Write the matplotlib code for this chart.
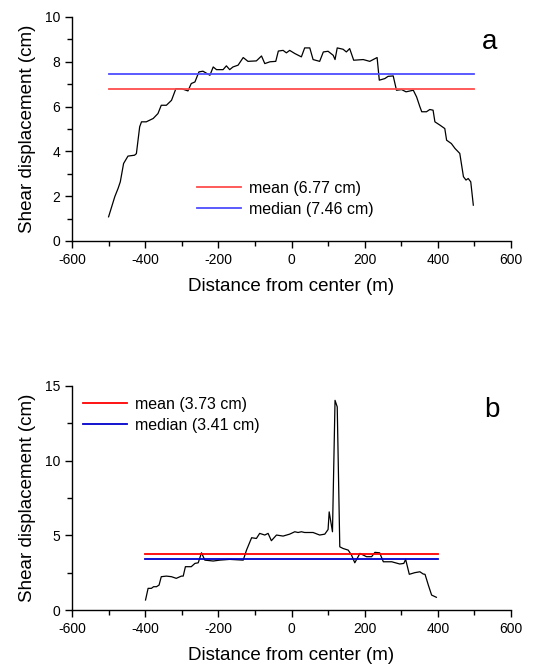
import matplotlib
matplotlib.use("Agg")
import matplotlib.pyplot as plt
from matplotlib.ticker import MultipleLocator

plt.rcParams['font.family'] = ['Liberation Sans', 'DejaVu Sans']
plt.rcParams['axes.unicode_minus'] = False

# Panel a data
xa = [-500, -483, -474, -468, -459, -447, -429, -424, -415, -410, -397, -378, -365, -356,
      -342, -328, -316, -301, -283, -274, -264, -253, -242, -223, -214, -205, -187, -178,
      -169, -160, -146, -132, -119, -96, -82, -73, -59, -43, -36, -23, -14, -5, 9, 27, 36,
      50, 59, 77, 87, 100, 114, 119, 125, 141, 150, 159, 170, 196, 214, 228, 234, 240, 255,
      264, 278, 287, 301, 313, 333, 342, 351, 356, 369, 378, 387, 392, 406, 419, 424, 437,
      447, 460, 470, 477, 483, 490, 497]
ya = [1.08, 1.98, 2.35, 2.64, 3.46, 3.79, 3.83, 3.90, 5.10, 5.32, 5.32, 5.47, 5.69, 6.06,
      6.06, 6.28, 6.80, 6.80, 6.70, 7.03, 7.10, 7.55, 7.58, 7.40, 7.77, 7.65, 7.65, 7.82,
      7.65, 7.77, 7.85, 8.19, 8.02, 8.04, 8.26, 7.92, 8.00, 8.02, 8.48, 8.51, 8.40, 8.51,
      8.37, 8.22, 8.62, 8.62, 8.10, 8.02, 8.44, 8.47, 8.29, 8.10, 8.62, 8.56, 8.44, 8.59,
      8.07, 8.10, 8.02, 8.14, 8.19, 7.18, 7.25, 7.35, 7.37, 6.73, 6.76, 6.66, 6.73, 6.43,
      5.99, 5.77, 5.77, 5.87, 5.84, 5.32, 5.17, 5.02, 4.50, 4.35, 4.13, 3.91, 2.87, 2.72,
      2.79, 2.64, 1.60]
mean_a = 6.77
median_a = 7.46
range_a = [-500, 500]

# Panel b data
xb = [-399, -392, -383, -377, -369, -362, -356, -342, -328, -315, -301, -296, -290, -274,
      -264, -255, -246, -237, -214, -196, -169, -132, -123, -109, -96, -87, -73, -64, -55,
      -41, -23, -5, 9, 18, 27, 36, 59, 77, 91, 100, 103, 112, 119, 125, 132, 141, 155, 164,
      173, 187, 205, 219, 228, 241, 251, 274, 296, 307, 312, 322, 337, 351, 360, 365, 374,
      383, 396]
yb = [0.67, 1.45, 1.45, 1.56, 1.56, 1.67, 2.23, 2.27, 2.23, 2.12, 2.27, 2.27, 2.90, 2.90,
      3.12, 3.16, 3.83, 3.34, 3.28, 3.34, 3.39, 3.34, 4.01, 4.84, 4.79, 5.13, 5.02, 5.13,
      4.64, 5.02, 4.95, 5.08, 5.24, 5.19, 5.24, 5.19, 5.19, 5.02, 5.08, 5.39, 6.57, 5.24,
      14.04, 13.60, 4.23, 4.12, 4.01, 3.68, 3.16, 3.79, 3.57, 3.57, 3.86, 3.83, 3.23, 3.23,
      3.08, 3.12, 3.39, 2.39, 2.50, 2.56, 2.41, 2.39, 1.67, 1.00, 0.85]
mean_b = 3.73
median_b = 3.41
range_b = [-400, 400]

W, H = 533, 671
fig = plt.figure(figsize=(W / 100, H / 100), dpi=100)

def style(ax, ymax, ymajor, yminor):
    ax.set_xlim(-600, 600)
    ax.set_ylim(0, ymax)
    ax.xaxis.set_major_locator(MultipleLocator(200))
    ax.xaxis.set_minor_locator(MultipleLocator(100))
    ax.yaxis.set_major_locator(MultipleLocator(ymajor))
    ax.yaxis.set_minor_locator(MultipleLocator(yminor))
    for s in ['top', 'right']:
        ax.spines[s].set_visible(False)
    for s in ['left', 'bottom']:
        ax.spines[s].set_linewidth(1.0)
    ax.tick_params(which='major', direction='out', length=5, width=1.0, labelsize=10)
    ax.tick_params(which='minor', direction='out', length=3.5, width=1.0)
    ax.set_xlabel('Distance from center (m)', fontsize=13.5, labelpad=8)
    ax.set_ylabel('Shear displacement (cm)', fontsize=13.5, labelpad=6)

# Panel a
ax1 = fig.add_axes([72 / W, 1 - 241 / H, 439 / W, 224 / H])
ax1.plot(xa, ya, color='black', lw=0.9)
ax1.plot(range_a, [mean_a, mean_a], color='#ff4d4d', lw=1.3, label='mean (6.77 cm)')
ax1.plot(range_a, [median_a, median_a], color='#4d4dff', lw=1.3, label='median (7.46 cm)')
style(ax1, 10, 2, 1)
ax1.legend(loc='upper left', bbox_to_anchor=(197 / W, 1 - 181 / H),
           bbox_transform=fig.transFigure, frameon=False, fontsize=11.5,
           handlelength=2.75, handletextpad=0.5, labelspacing=0.35, borderpad=0,
           borderaxespad=0)
ax1.text(490 / W, 1 - 42 / H, 'a', transform=fig.transFigure, fontsize=20,
         ha='center', va='center')

# Panel b
ax2 = fig.add_axes([72 / W, 1 - 610 / H, 439 / W, 224 / H])
ax2.plot(xb, yb, color='black', lw=0.9)
ax2.plot(range_b, [mean_b, mean_b], color='red', lw=1.3, label='mean (3.73 cm)')
ax2.plot(range_b, [median_b, median_b], color='#0000cc', lw=1.3, label='median (3.41 cm)')
style(ax2, 15, 5, 2.5)
ax2.legend(loc='upper left', bbox_to_anchor=(83 / W, 1 - 397 / H),
           bbox_transform=fig.transFigure, frameon=False, fontsize=11.5,
           handlelength=2.75, handletextpad=0.5, labelspacing=0.35, borderpad=0,
           borderaxespad=0)
ax2.text(492 / W, 1 - 410 / H, 'b', transform=fig.transFigure, fontsize=20,
         ha='center', va='center')

fig.savefig('out.png', dpi=100)
